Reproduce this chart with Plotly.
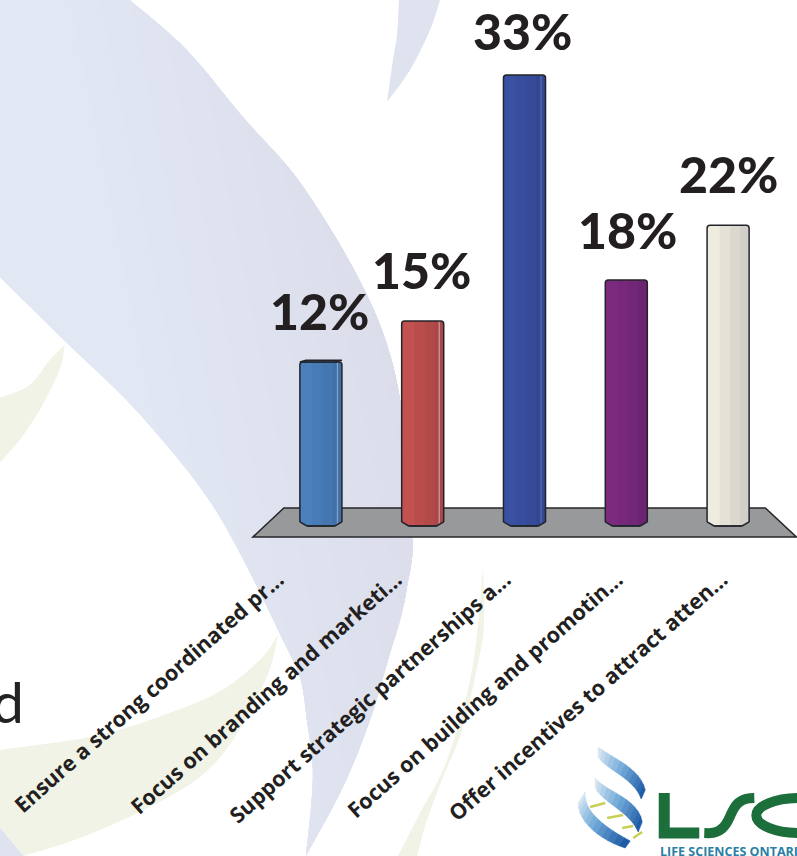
import plotly.graph_objects as go

# ---- chart data ----
categories = ["Ensure a strong coordinated pr...", "Focus on branding and marketi...",
              "Support strategic partnerships a...", "Focus on building and promotin...",
              "Offer incentives to attract atten..."]
values = [12, 15, 33, 18, 22]
value_labels = ["12%", "15%", "33%", "18%", "22%"]
bar_colors = ["#4a80bc", "#c2514f", "#3a51a3", "#7c2a7e", "#eeecdf"]

# ---- layout constants ----
W, H = 797, 856
L, R, T, B = 270.15, 778.65, 0, 529
BAR_W = 0.413
FONT = "Lato"
TICK_FONT = "Open Sans"
INK = "#231f20"
OUT = "#22242a"
label_dy = [31, 31, 24, 30, 31]      # label gap above bar
label_dx = [-1.5, -1, -2, 1, 0]
tick_shift = [-0.42, -0.26, -0.19, -0.09, -0.06]


def px(x):
    return (x - L) / (R - L)


def py(y):
    return 1 - (y - T) / (B - T)


def path(pts, close=True):
    s = "M " + " L ".join(f"{px(x):.5f} {py(y):.5f}" for x, y in pts)
    return s + (" Z" if close else "")


def poly(pts, fill, line=None, lw=0, layer="below"):
    return dict(type="path", xref="paper", yref="paper", path=path(pts), fillcolor=fill,
                line=dict(color=line or "rgba(0,0,0,0)", width=lw), layer=layer)


def curve(pts, n=8):
    """Catmull-Rom resampling of a hand-read outline edge."""
    out = []
    P = [pts[0]] + list(pts) + [pts[-1]]
    for i in range(1, len(P) - 2):
        p0, p1, p2, p3 = P[i - 1], P[i], P[i + 1], P[i + 2]
        for k in range(n):
            t = k / n
            out.append(tuple(0.5 * (2 * p1[a] + (p2[a] - p0[a]) * t + (2 * p0[a] - 5 * p1[a] + 4 * p2[a] - p3[a]) * t * t
                                    + (3 * p1[a] - p0[a] - 3 * p2[a] + p3[a]) * t ** 3) for a in (0, 1)))
    out.append(pts[-1])
    return out


def clip(pts, c, slope=0.2):
    """Keep the part of a polygon on the right of the slanted line x - slope*y = c."""
    f = lambda q: q[0] - slope * q[1] - c
    out = []
    for i, a in enumerate(pts):
        b = pts[(i + 1) % len(pts)]
        fa, fb = f(a), f(b)
        if fa >= 0:
            out.append(a)
        if (fa >= 0) != (fb >= 0):
            t = fa / (fa - fb)
            out.append((a[0] + (b[0] - a[0]) * t, a[1] + (b[1] - a[1]) * t))
    return out


def bez(p0, p1, p2, p3, n=12):
    r = []
    for k in range(n + 1):
        t = k / n
        u = 1 - t
        r.append(tuple(u ** 3 * p0[a] + 3 * u * u * t * p1[a] + 3 * u * t * t * p2[a] + t ** 3 * p3[a] for a in (0, 1)))
    return r


def mix(c1, c2, t):
    return "#" + "".join(f"{round(a + (b - a) * t):02x}" for a, b in zip(c1, c2))


swoosh_r = curve([(130, 0), (187, 50), (243, 117), (293, 173), (333, 233), (363, 287), (383, 333),
                  (397, 383), (405, 440), (413, 537), (407, 587), (400, 620), (390, 653), (370, 720), (343, 787),
                  (306, 856)])
swoosh_l = curve([(306, 856), (313, 777), (307, 720), (300, 677), (283, 640), (240, 553), (200, 487),
                  (133, 407), (67, 343), (0, 277)])
swoosh = [(0, 0)] + swoosh_r + swoosh_l
top_sliver = [(399, 0), (440, 0)] + curve([(440, 0), (430, 30), (410, 70), (387, 102)]) + curve([(387, 102), (393, 60), (397, 35), (399, 0)])
corner_blue = [(0, 827), (24, 856), (0, 856)]
green_left = curve([(65, 345), (50, 360), (30, 385), (0, 398)]) + curve([(0, 463), (20, 440), (40, 410), (60, 370), (65, 345)])
green_low = curve([(278, 635), (260, 660), (217, 693), (150, 720), (90, 737), (0, 750)]) + [(0, 827)] + \
    curve([(24, 856), (83, 837), (150, 807), (200, 777), (233, 740), (267, 677), (278, 635)])
green_sliver = curve([(483, 567), (484, 620), (480, 653), (463, 727), (443, 777), (427, 820), (417, 856)]) + \
    curve([(398, 856), (420, 813), (447, 760), (472, 670), (483, 567)])
floor = [(284, 508), (765, 508), (796, 537), (253, 537)]

shapes = [poly(swoosh, "#e2e7f4")]
# the swoosh's soft left-to-right tint, in faint slanted steps
N_STEPS = 9
for k in range(1, N_STEPS + 1):
    shapes.append(poly(clip(swoosh, 40 + 30 * k), mix((0xe2, 0xe7, 0xf4), (0xdb, 0xdd, 0xea), k / N_STEPS)))
shapes += [
    poly(top_sliver, "#dfe2ef"),
    poly(corner_blue, "#dfe2ef"),
    poly(green_left, "#f1f3e6"),
    poly(green_low, "#f1f3e6"),
    poly(green_sliver, "#f1f3e6"),
    poly(floor, "#98999b", "#26262a", 1.5),
]

# ---- logo ----
bands = [
    (((598, 747), (612, 758), (640, 768), (645, 790)), ((598, 757), (606, 770), (634, 778), (641, 799))),
    (((595, 778), (606, 792), (638, 798), (642, 822)), ((595, 788), (602, 802), (630, 812), (638, 832))),
    (((585, 792), (583, 812), (606, 828), (630, 841)), ((578, 803), (578, 822), (600, 840), (625, 848))),
]
TIP, MID, DARK = (0xd5, 0xe5, 0xf2), (0x6f, 0xa8, 0xd8), (0x1f, 0x5c, 0xa6)
for up, lo in bands:
    a, b = bez(*up), bez(*lo)
    for k in range(len(a) - 1):
        t = k / (len(a) - 2)
        col = mix(TIP, MID, t / 0.5) if t < 0.5 else mix(MID, DARK, (t - 0.5) / 0.5)
        shapes.append(dict(type="path", xref="paper", yref="paper", layer="above", fillcolor=col,
                           line=dict(color=col, width=0.6), path=path([a[k], a[k + 1], b[k + 1], b[k]])))
for a, b in [((590, 807), (605, 803)), ((607, 818), (623, 815)), ((622, 828), (633, 826)), ((633, 838), (642, 832))]:
    shapes.append(dict(type="path", xref="paper", yref="paper", path=path([a, b], close=False),
                       line=dict(color="#c7cf55", width=2.5), layer="above"))
GREEN = "#1c6f3b"
shapes.append(dict(type="path", xref="paper", yref="paper",
                   path=path([(664, 793), (664, 833), (699, 833)], close=False),
                   line=dict(color=GREEN, width=11), layer="above"))
shapes.append(dict(type="path", xref="paper", yref="paper",
                   path=path(bez((704, 833), (738, 836), (722, 797), (754, 798), n=20), close=False),
                   line=dict(color=GREEN, width=10), layer="above"))
shapes.append(dict(type="circle", xref="paper", yref="paper", x0=px(756), x1=px(842), y0=py(833), y1=py(798),
                   line=dict(color=GREEN, width=10), layer="above"))

# ---- bar bottom chamfers and the 3-D cap of the first bar (data coordinates) ----
dx_c, dy_c = 0.07, 0.3
for i, c in enumerate(bar_colors):
    for l, inner in ((i - BAR_W / 2, 1), (i + BAR_W / 2, -1)):
        out = l - inner * 0.02
        shapes.append(dict(type="path", xref="x", yref="y", layer="above", fillcolor="#98999b",
                           line=dict(width=0),
                           path=f"M {out} {dy_c} L {l} {dy_c} L {l + inner * dx_c} 0 L {l + inner * dx_c} -0.16 L {out} -0.16 Z"))
        shapes.append(dict(type="line", xref="x", yref="y", layer="above", x0=l, x1=l + inner * dx_c, y0=dy_c, y1=0,
                           line=dict(color=OUT, width=1.5)))
    shapes.append(dict(type="line", xref="x", yref="y", layer="above", x0=i - BAR_W / 2 + dx_c, x1=i + BAR_W / 2 - dx_c,
                       y0=0, y1=0, line=dict(color=OUT, width=1.5)))
shapes.append(dict(type="path", xref="x", yref="y", layer="above", fillcolor="#3d6a9e",
                   line=dict(color=OUT, width=1.5),
                   path=f"M {-BAR_W / 2} {values[0]} L {-BAR_W / 2 + 0.06} {values[0] + 0.13} "
                        f"L {BAR_W / 2} {values[0] + 0.13} L {BAR_W / 2 - 0.07} {values[0]} Z"))

fig = go.Figure()
# base colour
fig.add_bar(x=list(range(5)), y=values, width=BAR_W, marker=dict(color=bar_colors, line=dict(width=0), cornerradius=3),
            hoverinfo="skip", showlegend=False)
# shading strips across each bar: (start fraction, width fraction, overlay colour)
strips = [(0.30, 0.25, "rgba(0,0,30,0.04)"), (0.55, 0.23, "rgba(0,0,30,0.08)"), (0.78, 0.22, "rgba(0,0,30,0.12)")]
for s, w, col in strips:
    fig.add_bar(x=list(range(5)), y=values, width=BAR_W * w, offset=-BAR_W / 2 + BAR_W * s,
                marker=dict(color=col, line=dict(width=0)), hoverinfo="skip", showlegend=False)
# highlight line near right edge
fig.add_bar(x=list(range(5)), y=values, width=0.012, offset=BAR_W / 2 - 0.05,
            marker=dict(color=["rgba(255,255,255,.35)", "rgba(255,255,255,.45)", "rgba(255,255,255,.2)",
                               "rgba(255,255,255,0)", "rgba(255,255,255,0)"], line=dict(width=0)),
            hoverinfo="skip", showlegend=False)
# outline
fig.add_bar(x=list(range(5)), y=values, width=BAR_W,
            marker=dict(color="rgba(0,0,0,0)", line=dict(color=OUT, width=1.5), cornerradius=3),
            hoverinfo="skip", showlegend=False)

annotations = [
    dict(x=i, y=v, xref="x", yref="y", text=t, showarrow=False, yanchor="bottom", xanchor="center",
         yshift=dy - 12, xshift=dx, font=dict(family=FONT, size=50, color=INK, weight=900))
    for i, (v, t, dy, dx) in enumerate(zip(values, value_labels, label_dy, label_dx))
]
annotations.append(dict(x=px(26), y=py(737), xref="paper", yref="paper", text="d", showarrow=False,
                        xanchor="right", yanchor="bottom", font=dict(family=FONT, size=57, color="#222222", weight=400)))
annotations.append(dict(x=px(658), y=py(851), xref="paper", yref="paper", text="LIFE SCIENCES ONTARIO",
                        showarrow=False, xanchor="left", yanchor="middle",
                        font=dict(family=TICK_FONT, size=12.5, color="#2a7fa5", weight="bold")))

fig.update_layout(
    width=W, height=H, barmode="overlay", showlegend=False,
    margin=dict(l=L, r=W - R, t=T, b=H - B, pad=0, autoexpand=False),
    paper_bgcolor="white", plot_bgcolor="rgba(0,0,0,0)",
    xaxis=dict(range=[-0.5, 4.5], tickmode="array",
               tickvals=[i + s for i, s in enumerate(tick_shift)], ticktext=categories,
               tickangle=-41.5, ticks="", showgrid=False, zeroline=False, showline=False,
               ticklabelstandoff=33, tickfont=dict(family=TICK_FONT, size=21.5, color=INK, weight=700)),
    yaxis=dict(range=[-3 / 13.667, 526 / 13.667], visible=False, showgrid=False, zeroline=False),
    shapes=shapes, annotations=annotations,
)
fig.write_html("out.html", config=dict(displayModeBar=False),
               post_script="document.body.style.margin='0';document.body.style.overflow='hidden';")
